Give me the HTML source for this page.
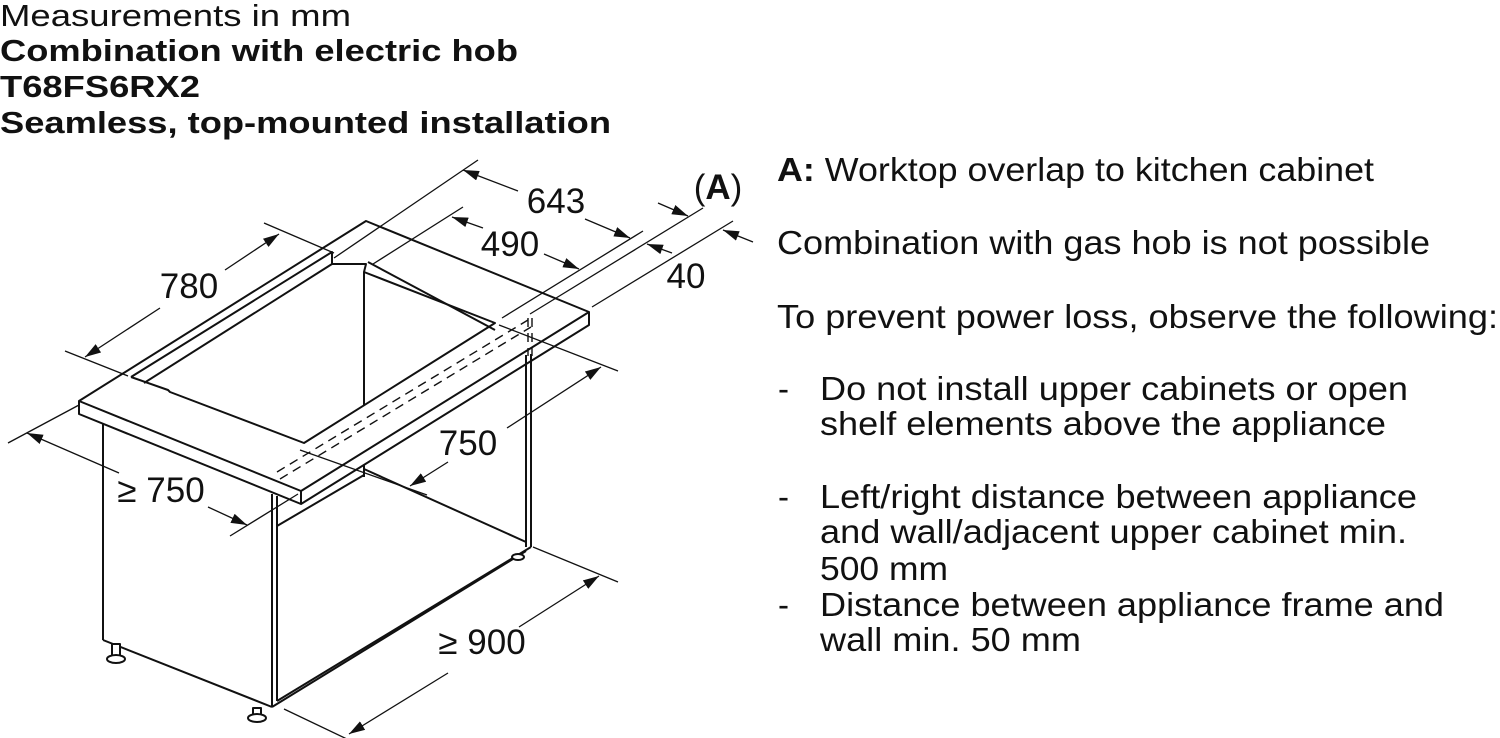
<!DOCTYPE html>
<html><head><meta charset="utf-8"><style>
html,body{margin:0;padding:0;background:#fff;}
svg{display:block;}
text{font-family:"Liberation Sans",Arial,sans-serif;fill:#111;}
</style></head><body>
<svg width="1500" height="738" viewBox="0 0 1500 738" xmlns="http://www.w3.org/2000/svg">
<defs>
<marker id="ar" viewBox="0 0 16 10" refX="16" refY="5" markerWidth="16" markerHeight="10" markerUnits="userSpaceOnUse" orient="auto">
<path d="M0,0 L16,5 L0,10 Z" fill="#111"/></marker>
</defs>
<!-- header -->
<text x="0" y="26" font-size="31" textLength="351" lengthAdjust="spacingAndGlyphs">Measurements in mm</text>
<text x="0" y="61" font-size="31" font-weight="bold" textLength="518" lengthAdjust="spacingAndGlyphs">Combination with electric hob</text>
<text x="0" y="97" font-size="31" font-weight="bold" textLength="200" lengthAdjust="spacingAndGlyphs">T68FS6RX2</text>
<text x="0" y="133" font-size="31" font-weight="bold" textLength="611" lengthAdjust="spacingAndGlyphs">Seamless, top-mounted installation</text>

<!-- right text -->
<g font-size="33">
<text x="777" y="181" textLength="597" lengthAdjust="spacingAndGlyphs"><tspan font-weight="bold">A:</tspan> Worktop overlap to kitchen cabinet</text>
<text x="777" y="254" textLength="653" lengthAdjust="spacingAndGlyphs">Combination with gas hob is not possible</text>
<text x="777" y="328" textLength="721" lengthAdjust="spacingAndGlyphs">To prevent power loss, observe the following:</text>
<text x="778" y="400">-</text>
<text x="820" y="400" textLength="588" lengthAdjust="spacingAndGlyphs">Do not install upper cabinets or open</text>
<text x="820" y="435" textLength="566" lengthAdjust="spacingAndGlyphs">shelf elements above the appliance</text>
<text x="778" y="508">-</text>
<text x="820" y="508" textLength="597" lengthAdjust="spacingAndGlyphs">Left/right distance between appliance</text>
<text x="820" y="543" textLength="587" lengthAdjust="spacingAndGlyphs">and wall/adjacent upper cabinet min.</text>
<text x="820" y="580" textLength="128" lengthAdjust="spacingAndGlyphs">500 mm</text>
<text x="778" y="616">-</text>
<text x="820" y="616" textLength="624" lengthAdjust="spacingAndGlyphs">Distance between appliance frame and</text>
<text x="820" y="651" textLength="261" lengthAdjust="spacingAndGlyphs">wall min. 50 mm</text>
</g>

<!-- drawing -->
<g stroke="#111" fill="none" stroke-width="2" stroke-linejoin="round">
<polygon points="79,401 366,221 589,312 301,491" fill="#fff"/>
<polyline points="79,401 79,414 301,504 589,325 589,312"/>
<line x1="301" y1="491" x2="301" y2="504"/>
<polyline points="131,377 332,252 332,264 366,264 364,272 495,323 304,443 170,392 168,390 131,377"/>
<line x1="144" y1="383" x2="332" y2="264"/>
<line x1="368" y1="262" x2="495" y2="330"/>
<line x1="364" y1="272" x2="364" y2="405"/>
<line x1="103" y1="424" x2="103" y2="640"/>
<line x1="103" y1="640" x2="272" y2="707"/>
<line x1="272" y1="494" x2="272" y2="707"/>
<line x1="277" y1="496" x2="277" y2="701"/>
<line x1="272" y1="707" x2="526" y2="551"/>
<line x1="277" y1="701" x2="531" y2="547"/>
<line x1="526" y1="355" x2="526" y2="547"/>
<line x1="531" y1="354" x2="531" y2="547"/>
<line x1="364" y1="469" x2="526" y2="542"/>
<line x1="277" y1="526" x2="364" y2="475"/>
<line x1="364" y1="465" x2="364" y2="477"/>
<rect x="112" y="644" width="8" height="14" fill="#fff"/>
<ellipse cx="116" cy="659" rx="9" ry="4" fill="#fff"/>
<rect x="253" y="708" width="8" height="10" fill="#fff"/>
<ellipse cx="257" cy="718" rx="9" ry="4" fill="#fff"/>
<ellipse cx="518" cy="557" rx="6" ry="3" fill="#fff"/>
</g>
<g stroke="#111" stroke-width="1.4" fill="none" stroke-dasharray="9,6">
<line x1="277" y1="472" x2="528" y2="320"/>
<line x1="280" y1="479" x2="531" y2="327"/>
<line x1="528" y1="318" x2="528" y2="356"/>
<line x1="532" y1="318" x2="532" y2="356"/>
</g>

<g stroke="#111" stroke-width="1.3" fill="none">
<line x1="478" y1="160" x2="334" y2="258"/>
<line x1="463" y1="207" x2="373" y2="264"/>
<line x1="643" y1="231" x2="502" y2="318"/>
<line x1="703" y1="208" x2="530" y2="314"/>
<line x1="733" y1="221" x2="592" y2="307"/>
<line x1="264" y1="223" x2="334" y2="253"/>
<line x1="65" y1="351" x2="128" y2="376"/>
<line x1="79" y1="405" x2="8" y2="443"/>
<line x1="298" y1="494" x2="230" y2="536"/>
<line x1="499" y1="325" x2="618" y2="371"/>
<line x1="300" y1="450" x2="427" y2="495"/>
<line x1="533" y1="547" x2="618" y2="582"/>
<line x1="284" y1="709" x2="349" y2="740"/>
<line x1="518" y1="191" x2="463" y2="170" marker-end="url(#ar)"/>
<line x1="585" y1="219" x2="630" y2="238" marker-end="url(#ar)"/>
<line x1="483" y1="228" x2="452" y2="217" marker-end="url(#ar)"/>
<line x1="544" y1="254" x2="579" y2="269" marker-end="url(#ar)"/>
<line x1="658" y1="203" x2="688" y2="216" marker-end="url(#ar)"/>
<line x1="672" y1="253" x2="647" y2="244" marker-end="url(#ar)"/>
<line x1="753" y1="242" x2="723" y2="230" marker-end="url(#ar)"/>
<line x1="225" y1="270" x2="279" y2="234" marker-end="url(#ar)"/>
<line x1="160" y1="308" x2="85" y2="357" marker-end="url(#ar)"/>
<line x1="119" y1="473" x2="27" y2="433" marker-end="url(#ar)"/>
<line x1="208" y1="507" x2="247" y2="525" marker-end="url(#ar)"/>
<line x1="507" y1="428" x2="601" y2="367" marker-end="url(#ar)"/>
<line x1="448" y1="462" x2="410" y2="486" marker-end="url(#ar)"/>
<line x1="519" y1="627" x2="599" y2="576" marker-end="url(#ar)"/>
<line x1="448" y1="673" x2="349" y2="734" marker-end="url(#ar)"/>
</g>

<g font-size="35" text-anchor="middle">
<text x="556" y="213">643</text>
<text x="510" y="256">490</text>
<text x="686" y="288">40</text>
<text x="718" y="199"><tspan>(</tspan><tspan font-weight="bold">A</tspan><tspan>)</tspan></text>
<text x="189" y="298">780</text>
<text x="161" y="502">≥ 750</text>
<text x="468" y="455">750</text>
<text x="482" y="654">≥ 900</text>
</g>
</svg>
</body></html>
